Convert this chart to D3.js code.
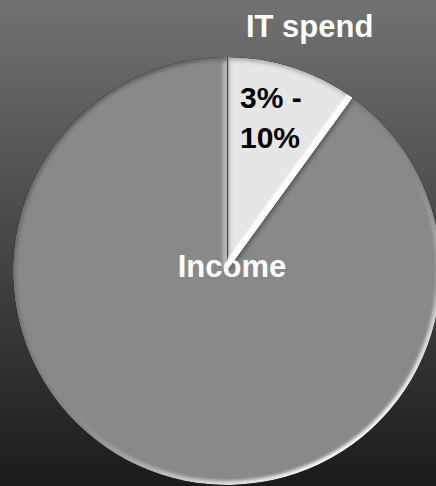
<!DOCTYPE html>
<html>
<head>
<meta charset="utf-8">
<script src="https://cdn.jsdelivr.net/npm/d3@7/dist/d3.min.js"></script>
<style>
  html, body { margin: 0; padding: 0; background: #1c1c1c; }
  svg { display: block; }
  text { font-family: "Liberation Sans", Arial, sans-serif; font-weight: bold; }
</style>
</head>
<body>
<svg id="chart" width="436" height="486"></svg>
<script>
// Share of income going to IT
const categories = ["IT spend", "Income"];
const values = [10, 90];
const sliceColors = ["#e6e6e6", "#898989"];
const rangeLabel = ["3% -", "10%"];

const W = 436, H = 486;
const cx = 227, cy = 271, R = 214;

const svg = d3.select("#chart");
const defs = svg.append("defs");

// backdrop gradient
const bg = defs.append("linearGradient").attr("id", "bg")
  .attr("x1", 0).attr("y1", 0).attr("x2", 0).attr("y2", 1);
bg.append("stop").attr("offset", "0%").attr("stop-color", "#727272");
bg.append("stop").attr("offset", "100%").attr("stop-color", "#1b1b1b");
svg.append("rect").attr("width", W).attr("height", H).attr("fill", "url(#bg)");

// embossed bevel, light from lower right: strong highlights, soft shade
const D0 = Math.sin(40 * Math.PI / 180);
const hi = 1.3, lo = 0.45;
const f = defs.append("filter").attr("id", "bevel")
  .attr("color-interpolation-filters", "sRGB")
  .attr("x", "-5%").attr("y", "-5%").attr("width", "110%").attr("height", "110%");
f.append("feGaussianBlur").attr("in", "SourceAlpha").attr("stdDeviation", 2.5).attr("result", "blur");
f.append("feDiffuseLighting").attr("in", "blur").attr("surfaceScale", 2.5)
  .attr("diffuseConstant", 1).attr("lighting-color", "#ffffff").attr("result", "light")
  .append("feDistantLight").attr("azimuth", 55).attr("elevation", 40);

const pos = f.append("feComponentTransfer").attr("in", "light").attr("result", "pos");
["feFuncR", "feFuncG", "feFuncB"].forEach(n =>
  pos.append(n).attr("type", "linear").attr("slope", hi).attr("intercept", -hi * D0));
const fac = f.append("feComponentTransfer").attr("in", "light").attr("result", "fac");
["feFuncR", "feFuncG", "feFuncB"].forEach(n =>
  fac.append(n).attr("type", "linear").attr("slope", lo).attr("intercept", 1 - lo * D0));

f.append("feComposite").attr("in", "SourceGraphic").attr("in2", "fac")
  .attr("operator", "arithmetic").attr("k1", 1).attr("k2", 0).attr("k3", 0).attr("k4", 0)
  .attr("result", "shaded");
f.append("feComposite").attr("in", "shaded").attr("in2", "pos")
  .attr("operator", "arithmetic").attr("k1", 0).attr("k2", 1).attr("k3", 1).attr("k4", 0)
  .attr("result", "lit");
f.append("feComposite").attr("in", "lit").attr("in2", "SourceAlpha").attr("operator", "in");

defs.append("filter").attr("id", "soft")
  .attr("x", "-20%").attr("y", "-20%").attr("width", "140%").attr("height", "140%")
  .append("feGaussianBlur").attr("stdDeviation", 1.2);

const pie = d3.pie().sort(null).value(d => d)(values);
const arc = d3.arc().innerRadius(0).outerRadius(R);

const g = svg.append("g").attr("transform", `translate(${cx},${cy})`);
g.selectAll("path.slice")
  .data(pie)
  .join("path")
  .attr("class", "slice")
  .attr("d", arc)
  .attr("fill", (d, i) => sliceColors[i])
  .attr("filter", "url(#bevel)");

// rim details of the small slice: dark leading edge, bright trailing edge
const small = pie[0];
defs.append("clipPath").attr("id", "smallClip")
  .append("path").attr("d", arc(small)).attr("transform", `translate(${cx},${cy})`);
const edge = g.append("g").attr("clip-path", "url(#smallClip)")
  .attr("transform", `translate(${-cx},${-cy})`)
  .append("g").attr("transform", `translate(${cx},${cy})`);

const a0 = small.startAngle, a1 = small.endAngle;
edge.append("line")
  .attr("x1", 0).attr("y1", 0)
  .attr("x2", Math.sin(a0) * R).attr("y2", -Math.cos(a0) * R)
  .attr("stroke", "#2a2a2a").attr("stroke-width", 2.2).attr("stroke-opacity", 0.85);

const inset = 4;
const nx = -Math.cos(a1) * inset, ny = -Math.sin(a1) * inset;
edge.append("line")
  .attr("x1", nx).attr("y1", ny)
  .attr("x2", Math.sin(a1) * R + nx).attr("y2", -Math.cos(a1) * R + ny)
  .attr("stroke", "#ffffff").attr("stroke-width", 5).attr("stroke-opacity", 0.95)
  .attr("filter", "url(#soft)");

// category name outside the small slice
const mid = (small.startAngle + small.endAngle) / 2;
const outR = R * 1.25;
g.append("text")
  .attr("x", Math.sin(mid) * outR)
  .attr("y", -Math.cos(mid) * outR + 20)
  .attr("text-anchor", "middle")
  .attr("font-size", 31)
  .attr("fill", "#ffffff")
  .text(categories[0]);

// range inside the small slice
const rl = g.append("text")
  .attr("font-size", 30)
  .attr("fill", "#000000");
rangeLabel.forEach((t, i) => {
  rl.append("tspan")
    .attr("x", 13)
    .attr("y", -163 + i * 40)
    .text(t);
});

// big slice name near the center
g.append("text")
  .attr("x", 5)
  .attr("y", 6)
  .attr("text-anchor", "middle")
  .attr("font-size", 31)
  .attr("fill", "#ffffff")
  .text(categories[1]);
</script>
</body>
</html>
